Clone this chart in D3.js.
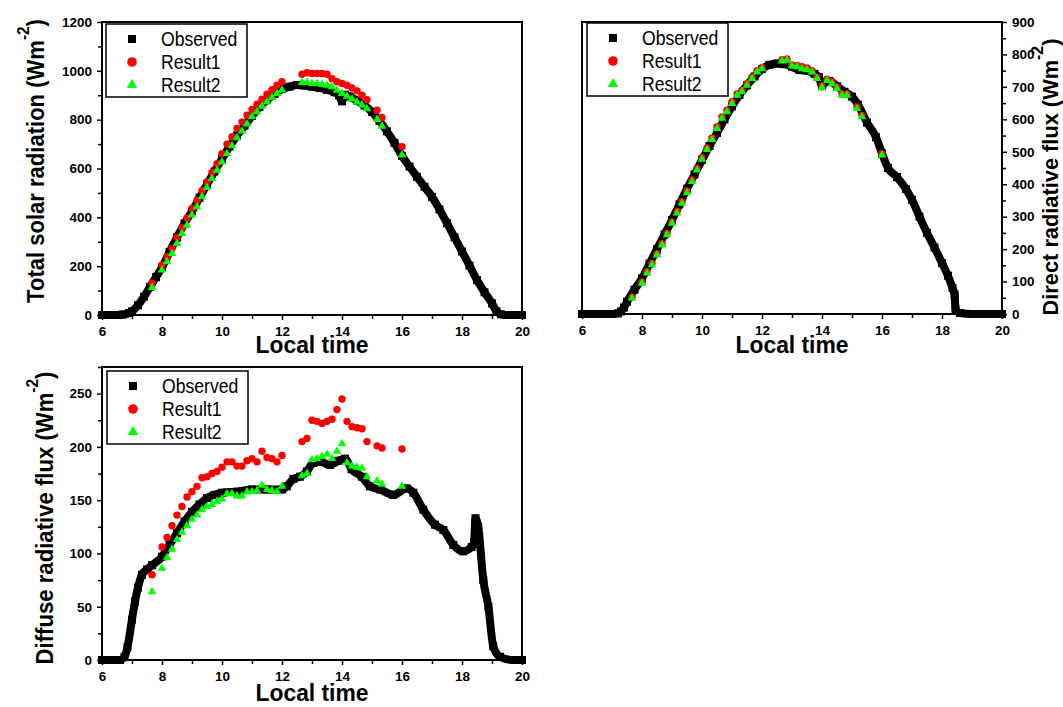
<!DOCTYPE html>
<html>
<head>
<meta charset="utf-8">
<script src="https://cdn.jsdelivr.net/npm/d3@7"></script>
<style>
  body { margin: 0; background: #fff; }
  svg text { font-family: "Liberation Sans", Arial, sans-serif; fill: #000; }
</style>
</head>
<body>
<div id="chart"></div>
<script>

// times of the model results (every 10 min, with gaps)
var resultTimes = [7.667, 8.0, 8.167, 8.333, 8.5, 8.667, 8.833, 9.0, 9.167, 9.333, 9.5, 9.667, 9.833,
  10.0, 10.167, 10.333, 10.5, 10.667, 10.833, 11.0, 11.167, 11.333, 11.5, 11.667, 11.833, 12.0,
  12.667, 12.833, 13.0, 13.167, 13.333, 13.5, 13.667, 13.833, 14.0, 14.167, 14.333, 14.5, 14.667, 14.833,
  15.167, 15.333, 16.0];

// Total solar radiation
var totalObsTime = [6.0, 6.5, 6.7, 6.9, 7.0, 7.2, 7.4, 7.6, 7.8, 8.0, 8.25, 8.5, 8.75, 9.0, 9.25, 9.5, 9.75,
  10.0, 10.25, 10.5, 10.75, 11.0, 11.25, 11.5, 11.75, 12.0, 12.25, 12.5, 12.75, 13.0, 13.25, 13.5, 13.75,
  13.9, 14.0, 14.1, 14.25, 14.5, 14.75, 15.0, 15.25, 15.5, 15.75, 16.0, 16.25, 16.5, 16.75, 17.0, 17.25,
  17.5, 17.75, 18.0, 18.25, 18.5, 18.75, 19.0, 19.15, 19.3, 19.5, 20.0];
var totalObsValue = [0, 0, 2, 8, 15, 40, 75, 115, 155, 195, 258, 318, 375, 425, 480, 535, 588,
  640, 690, 735, 775, 815, 852, 880, 905, 925, 935, 942, 940, 935, 930, 922, 912,
  900, 875, 902, 895, 878, 858, 832, 795, 752, 705, 652, 608, 566, 525, 484, 432,
  376, 318, 260, 202, 143, 93, 48, 15, 3, 0, 0];
var totalResult1 = [130, 205, 239, 273, 318, 357, 396, 436, 470, 509, 545, 584, 620, 661, 700, 730, 764,
  791, 818, 842, 863, 884, 904, 923, 941, 955,
  986, 992, 989, 989, 989, 986, 968, 955, 948, 941, 930, 918, 900, 882, 839, 809, 689];
var totalResult2 = [113, 184, 218, 252, 293, 334, 368, 409, 443, 484, 522, 559, 593, 627, 661, 693, 726,
  753, 782, 812, 832, 855, 873, 891, 907, 921,
  952, 952, 948, 948, 944, 941, 935, 920, 907, 896, 885, 872, 860, 845, 801, 773, 655];

// Direct radiative flux
var directObsTime = [6.0, 7.0, 7.2, 7.3, 7.4, 7.5, 7.75, 8.0, 8.25, 8.5, 8.75, 9.0, 9.25, 9.5, 9.75,
  10.0, 10.25, 10.5, 10.75, 11.0, 11.25, 11.5, 11.75, 12.0, 12.25, 12.5, 12.75, 13.0, 13.25, 13.5, 13.75,
  13.9, 14.0, 14.1, 14.25, 14.5, 14.75, 15.0, 15.2, 15.5, 15.8, 16.0, 16.2, 16.5, 16.8, 17.0, 17.25,
  17.5, 17.75, 18.0, 18.2, 18.35, 18.42, 18.45, 18.6, 19.0, 20.0];
var directObsValue = [0, 0, 2, 8, 20, 38, 75, 110, 155, 200, 245, 290, 338, 386, 430,
  475, 518, 558, 600, 640, 675, 705, 732, 755, 768, 772, 770, 762, 752, 750, 740,
  730, 702, 715, 718, 702, 685, 670, 645, 590, 545, 495, 450, 422, 385, 352, 300,
  250, 205, 157, 118, 80, 60, 15, 3, 0, 0];
var directResult1 = [52, 99, 130, 156, 186, 217, 248, 284, 316, 346, 379, 413, 449, 482, 512, 543, 577,
  607, 628, 654, 678, 690, 710, 730, 750, 760,
  784, 786, 768, 766, 762, 758, 750, 730, 703, 724, 715, 700, 678, 678, 638, 612, 494];
var directResult2 = [49, 95, 126, 152, 182, 213, 244, 280, 311, 341, 374, 408, 444, 477, 507, 538, 572,
  603, 623, 649, 674, 685, 705, 726, 746, 756,
  780, 782, 764, 762, 756, 753, 746, 726, 698, 720, 710, 695, 674, 674, 633, 608, 490];

// Diffuse radiative flux
var diffuseObsTime = [6.0, 6.6, 6.75, 6.85, 7.0, 7.1, 7.2, 7.33, 7.5, 7.67, 8.0, 8.25, 8.5, 8.75, 9.0,
  9.25, 9.5, 9.75, 10.0, 10.5, 11.0, 11.5, 12.0, 12.16, 12.38, 12.6, 12.83, 13.04, 13.27, 13.6, 13.88,
  14.1, 14.32, 14.66, 14.93, 15.27, 15.71, 16.16, 16.38, 16.71, 17.1, 17.38, 17.71, 18.04, 18.32, 18.4,
  18.45, 18.54, 18.71, 18.88, 19.04, 19.27, 19.71, 20.0];
var diffuseObsValue = [0, 0, 3, 12, 38, 55, 68, 80, 85, 89, 97, 108, 119, 130, 139,
  146, 152, 155, 157, 158, 160, 160, 160, 163, 170, 172, 177, 185, 186, 183, 187,
  189, 179, 172, 163, 160, 155, 161, 157, 141, 127, 122, 108, 102, 106, 110,
  133, 125, 75, 50, 13, 3, 0, 0];
var diffuseResult1 = [80, 106, 115, 126, 136, 144, 153, 158, 163, 171, 172, 175, 177, 181, 186, 186, 182,
  182, 187, 189, 186, 196, 190, 189, 186, 192,
  205, 208, 225, 224, 222, 224, 226, 235, 245, 224, 219, 218, 217, 205, 201, 199, 198];
var diffuseResult2 = [64, 86, 96, 104, 113, 120, 126, 132, 136, 141, 144, 146, 149, 151, 156, 156, 154,
  154, 158, 158, 159, 164, 160, 159, 158, 163,
  173, 175, 188, 189, 191, 193, 189, 196, 203, 185, 182, 181, 180, 172, 168, 165, 163];

var legendLabels = ["Observed", "Result1", "Result2"];
var xMajor = [6, 8, 10, 12, 14, 16, 18, 20];
var xMinor = [7, 9, 11, 13, 15, 17, 19];

var w = 1063;
var h = 707;

var svg = d3.select("#chart").append("svg")
  .attr("width", w)
  .attr("height", h);

var tri = d3.symbol().type(d3.symbolTriangle);

function drawPanel(p) {
  var x = d3.scaleLinear().domain([6, 20]).range([p.left, p.right]);
  var y = d3.scaleLinear().domain([0, p.yMax]).range([p.bottom, p.top]);
  var g = svg.append("g");

  // x axis, major + minor ticks
  g.append("g").attr("class", "axis")
    .attr("transform", "translate(0," + p.bottom + ")")
    .call(d3.axisBottom(x).tickValues(xMajor).tickSize(5).tickPadding(6).tickFormat(d3.format("d")));
  g.append("g").attr("class", "axis")
    .attr("transform", "translate(0," + p.bottom + ")")
    .call(d3.axisBottom(x).tickValues(xMinor).tickSize(4).tickFormat(""));

  // y axis
  var yMajor = d3.range(0, p.yMax + 1, p.yStep);
  var yMinor = d3.range(p.yStep / 2, p.yMax + 1, p.yStep);
  var axisFn = p.side == "left" ? d3.axisLeft : d3.axisRight;
  var yPos = p.side == "left" ? p.left : p.right;
  g.append("g").attr("class", "axis")
    .attr("transform", "translate(" + yPos + ",0)")
    .call(axisFn(y).tickValues(yMajor).tickSize(5).tickPadding(5).tickFormat(d3.format("d")));
  g.append("g").attr("class", "axis")
    .attr("transform", "translate(" + yPos + ",0)")
    .call(axisFn(y).tickValues(yMinor).tickSize(4).tickFormat(""));

  g.selectAll(".axis .domain").remove();
  g.selectAll(".axis line").attr("stroke", "#000").attr("stroke-width", 1.5);
  g.selectAll(".axis text").style("font-size", "13.5px").style("font-weight", "bold");

  // frame
  g.append("rect")
    .attr("x", p.left).attr("y", p.top)
    .attr("width", p.right - p.left).attr("height", p.bottom - p.top)
    .attr("fill", "none").attr("stroke", "#000").attr("stroke-width", 2);

  // observed: dense squares drawn as thick band
  var obs = p.obsTime.map(function(t, i) { return [t, p.obsValue[i]]; });
  g.append("path").datum(obs)
    .attr("d", d3.line().curve(d3.curveMonotoneX).x(function(d) { return x(d[0]); }).y(function(d) { return y(d[1]); }))
    .attr("fill", "none").attr("stroke", "#000").attr("stroke-width", 8)
    .attr("stroke-linejoin", "round");
  g.selectAll("rect.obs").data(obs).enter().append("rect")
    .attr("class", "obs")
    .attr("x", function(d) { return x(d[0]) - 4; })
    .attr("y", function(d) { return y(d[1]) - 4; })
    .attr("width", 8).attr("height", 8).attr("fill", "#000");

  // Result1
  g.selectAll("circle.r1").data(resultTimes).enter().append("circle")
    .attr("class", "r1")
    .attr("cx", function(t) { return x(t); })
    .attr("cy", function(t, i) { return y(p.r1[i]); })
    .attr("r", 3.7).attr("fill", "#ff0000");

  // Result2
  g.selectAll("path.r2").data(resultTimes).enter().append("path")
    .attr("class", "r2")
    .attr("d", tri.size(32))
    .attr("transform", function(t, i) { return "translate(" + x(t) + "," + y(p.r2[i]) + ")"; })
    .attr("fill", "#00ff00");

  // legend
  var lg = g.append("g").attr("transform", "translate(" + p.legX + "," + p.legY + ")");
  lg.append("rect").attr("width", 141).attr("height", 73)
    .attr("fill", "#fff").attr("stroke", "#000").attr("stroke-width", 1.5);
  var rows = [15, 38, 61];
  lg.append("rect").attr("x", 26 - 4).attr("y", rows[0] - 4).attr("width", 8).attr("height", 8).attr("fill", "#000");
  lg.append("circle").attr("cx", 26).attr("cy", rows[1]).attr("r", 4.8).attr("fill", "#ff0000");
  lg.append("path").attr("d", tri.size(48)).attr("transform", "translate(26," + rows[2] + ")").attr("fill", "#00ff00");
  legendLabels.forEach(function(lab, i) {
    lg.append("text")
      .attr("transform", "translate(55," + (rows[i] + 7) + ") scale(0.88,1)")
      .style("font-size", "20px").text(lab);
  });

  // x title
  var xt = g.append("text").attr("text-anchor", "middle")
    .style("font-size", "23px").style("font-weight", "bold").text("Local time");
  var sx = 113 / xt.node().getComputedTextLength();
  xt.attr("transform", "translate(" + ((p.left + p.right) / 2) + "," + p.xTitleY + ") scale(" + sx + ",1)");

  // y title with superscript
  var yt = g.append("text").attr("text-anchor", "middle")
    .style("font-size", p.yTitleSize + "px").style("font-weight", "bold");
  yt.append("tspan").text(p.yTitle + " (Wm");
  yt.append("tspan").attr("dy", -15).style("font-size", "16px").text("-2");
  yt.append("tspan").attr("dy", 15).text(")");
  var sy = p.yTitleLen / yt.node().getComputedTextLength();
  yt.attr("transform", "translate(" + p.yTitleX + "," + p.yTitleMid + ") rotate(-90) scale(" + sy + ",1)");
}

drawPanel({
  left: 102, right: 522, top: 22, bottom: 315, yMax: 1200, yStep: 200, side: "left",
  obsTime: totalObsTime, obsValue: totalObsValue, r1: totalResult1, r2: totalResult2,
  legX: 106, legY: 24, xTitleY: 353,
  yTitle: "Total solar radiation", yTitleSize: 23, yTitleX: 44, yTitleMid: 161, yTitleLen: 284
});

drawPanel({
  left: 582, right: 1002, top: 22, bottom: 314, yMax: 900, yStep: 100, side: "right",
  obsTime: directObsTime, obsValue: directObsValue, r1: directResult1, r2: directResult2,
  legX: 587, legY: 23, xTitleY: 353,
  yTitle: "Direct radiative flux", yTitleSize: 22, yTitleX: 1058, yTitleMid: 177, yTitleLen: 277
});

drawPanel({
  left: 102, right: 522, top: 367, bottom: 660, yMax: 275, yStep: 50, side: "left",
  obsTime: diffuseObsTime, obsValue: diffuseObsValue, r1: diffuseResult1, r2: diffuseResult2,
  legX: 107, legY: 371, xTitleY: 701,
  yTitle: "Diffuse radiative flux", yTitleSize: 23, yTitleX: 53, yTitleMid: 518, yTitleLen: 293
});

</script>
</body>
</html>
